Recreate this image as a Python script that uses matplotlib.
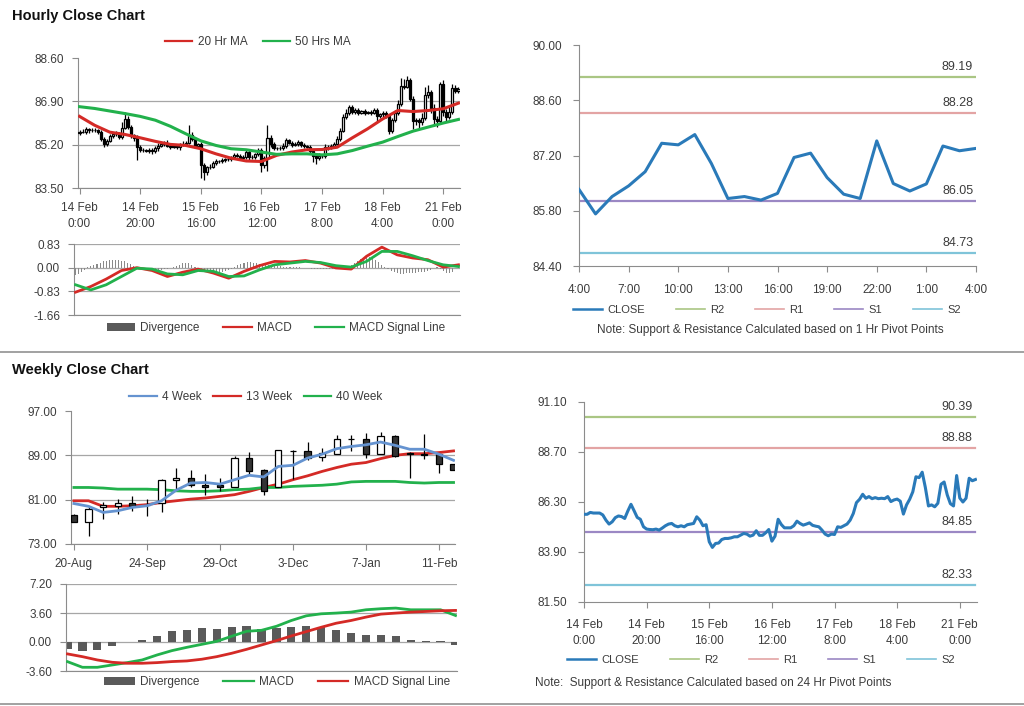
import numpy as np
import matplotlib.pyplot as plt
from matplotlib.lines import Line2D
from matplotlib.patches import Patch

plt.rcParams['font.family'] = ['Liberation Sans', 'DejaVu Sans']

# ---------------- hourly data (trading hours from 14 Feb 0:00) ----------------
close = np.array([
    85.71, 85.71, 85.80, 85.77, 85.77, 85.77, 85.68, 85.43, 85.24, 85.35,
    85.55, 85.63, 85.60, 85.51, 85.87, 86.19, 85.88, 85.56, 85.47, 85.11,
    85.00, 84.98, 84.97, 85.00, 84.95, 85.05, 85.16, 85.24, 85.27, 85.16,
    85.11, 85.16, 85.11, 85.21, 85.24, 85.27, 85.59, 85.43, 85.16, 85.21,
    84.39, 84.12, 84.31, 84.33, 84.50, 84.55, 84.55, 84.58, 84.63, 84.63,
    84.71, 84.79, 84.76, 84.66, 84.71, 84.92, 84.70, 84.70, 84.82, 84.98,
    84.42, 84.66, 85.47, 85.22, 85.06, 85.06, 85.06, 85.16, 85.38, 85.27,
    85.19, 85.24, 85.30, 85.18, 85.14, 85.11, 84.95, 84.76, 84.68, 84.76,
    84.74, 85.11, 85.08, 85.16, 85.24, 85.43, 85.75, 86.27, 86.43, 86.67,
    86.48, 86.56, 86.46, 86.51, 86.46, 86.48, 86.46, 86.56, 86.32, 86.40,
    86.44,
    86.34, 85.72, 86.16, 86.43, 86.79, 87.51, 87.47, 87.73, 87.00, 86.11,
    86.16, 86.07, 86.24, 87.15, 87.26, 86.64, 86.22, 86.11, 87.57, 86.49,
    86.30, 86.48, 87.44, 87.32, 87.38])
first_open = 85.65
wick_hi = np.array([
    0.08, 0.10, 0.08, 0.06, 0.08, 0.10, 0.06, 0.08, 0.06, 0.08,
    0.08, 0.06, 0.10, 0.08, 0.20, 0.30, 0.12, 0.08, 0.06, 0.10,
    0.06, 0.08, 0.06, 0.08, 0.06, 0.08, 0.10, 0.08, 0.06, 0.10,
    0.06, 0.08, 0.08, 0.06, 0.10, 0.08, 0.38, 0.10, 0.08, 0.06,
    0.10, 0.08, 0.06, 0.10, 0.06, 0.08, 0.06, 0.08, 0.06, 0.08,
    0.06, 0.08, 0.10, 0.06, 0.08, 0.10, 0.06, 0.08, 0.06, 0.10,
    0.08, 0.10, 0.50, 0.12, 0.08, 0.06, 0.08, 0.10, 0.08, 0.06,
    0.08, 0.06, 0.08, 0.06, 0.08, 0.06, 0.08, 0.06, 0.08, 0.10,
    0.06, 0.10, 0.08, 0.06, 0.08, 0.10, 0.12, 0.15, 0.15, 0.10,
    0.08, 0.06, 0.08, 0.06, 0.08, 0.06, 0.08, 0.06, 0.08, 0.06,
    0.08, 0.10, 0.08, 0.10, 0.12, 0.15, 0.30, 0.25, 0.15, 0.10,
    0.10, 0.08, 0.10, 0.20, 0.30, 0.30, 0.10, 0.15, 0.10, 0.10,
    0.15, 0.10, 0.20, 0.15, 0.10, 0.08])
wick_lo = np.array([
    0.08, 0.06, 0.08, 0.10, 0.08, 0.06, 0.08, 0.10, 0.12, 0.08,
    0.06, 0.08, 0.06, 0.10, 0.08, 0.06, 0.08, 0.10, 0.12, 0.50,
    0.10, 0.08, 0.06, 0.08, 0.10, 0.06, 0.08, 0.06, 0.08, 0.06,
    0.08, 0.06, 0.08, 0.10, 0.06, 0.08, 0.06, 0.10, 0.08, 0.06,
    0.50, 0.30, 0.10, 0.08, 0.06, 0.08, 0.06, 0.08, 0.06, 0.08,
    0.06, 0.08, 0.06, 0.08, 0.06, 0.08, 0.10, 0.06, 0.08, 0.06,
    0.30, 0.12, 0.50, 0.10, 0.08, 0.06, 0.08, 0.06, 0.08, 0.06,
    0.08, 0.06, 0.08, 0.06, 0.08, 0.06, 0.10, 0.25, 0.25, 0.10,
    0.08, 0.06, 0.08, 0.06, 0.08, 0.06, 0.08, 0.06, 0.08, 0.06,
    0.08, 0.06, 0.08, 0.06, 0.08, 0.06, 0.08, 0.06, 0.20, 0.08,
    0.10, 0.08, 0.10, 0.08, 0.06, 0.08, 0.06, 0.08, 0.06, 0.10,
    0.30, 0.15, 0.20, 0.10, 0.08, 0.10, 0.20, 0.30, 0.20, 0.10,
    0.15, 0.20, 0.10, 0.08, 0.10, 0.08])

ma_hours = np.arange(0, 126, 5)
ma20 = [86.31, 85.96, 85.69, 85.60, 85.47, 85.33, 85.21, 85.17, 85.04, 84.84,
        84.67, 84.56, 84.54, 84.78, 84.91, 85.00, 85.01, 85.10, 85.47, 85.82,
        86.21, 86.54, 86.50, 86.54, 86.61, 86.83]
ma50 = [86.69, 86.62, 86.52, 86.42, 86.31, 86.16, 85.92, 85.63, 85.35, 85.17,
        85.04, 85.00, 84.91, 84.82, 84.84, 84.84, 84.80, 84.84, 84.97, 85.14,
        85.30, 85.52, 85.73, 85.89, 86.05, 86.19]
macd_h = [-0.86, -0.66, -0.40, -0.10, 0.00, -0.10, -0.31, -0.16, -0.05, -0.19,
          -0.37, -0.13, 0.07, 0.22, 0.20, 0.25, 0.16, -0.01, -0.05, 0.40,
          0.72, 0.45, 0.34, 0.28, 0.02, 0.10]
signal_h = [-0.60, -0.78, -0.60, -0.31, -0.02, -0.05, -0.22, -0.25, -0.10, -0.13,
            -0.31, -0.29, -0.08, 0.10, 0.16, 0.22, 0.18, 0.07, 0.02, 0.22,
            0.57, 0.57, 0.42, 0.25, 0.10, 0.04]
div_h = np.array([
    -0.25, -0.22, -0.15, -0.08, 0.03, 0.06, 0.10, 0.14, 0.18, 0.22,
    0.25, 0.26, 0.27, 0.27, 0.26, 0.25, 0.22, 0.17, 0.12, 0.06,
    0.02, -0.01, -0.03, -0.05, -0.07, -0.09, -0.10, -0.10, -0.08, -0.06,
    -0.04, -0.01, 0.03, 0.07, 0.11, 0.15, 0.17, 0.15, 0.10, 0.04,
    -0.02, -0.06, -0.10, -0.14, -0.17, -0.19, -0.19, -0.18, -0.16, -0.13,
    -0.09, -0.04, 0.02, 0.08, 0.14, 0.18, 0.20, 0.20, 0.18, 0.15,
    0.13, 0.11, 0.10, 0.09, 0.08, 0.07, 0.06, 0.05, 0.04, 0.03,
    0.02, 0.02, 0.01, 0.01, 0.00, -0.01, -0.02, -0.03, -0.03, -0.04,
    -0.04, -0.04, -0.05, -0.05, -0.05, -0.04, -0.03, -0.02, 0.00, 0.04,
    0.10, 0.17, 0.24, 0.30, 0.35, 0.38, 0.37, 0.33, 0.27, 0.19,
    0.10, 0.02, -0.06, -0.12, -0.16, -0.19, -0.21, -0.21, -0.20, -0.19,
    -0.18, -0.17, -0.16, -0.15, -0.14, -0.12, -0.08, -0.02, 0.03, -0.05,
    -0.12, -0.18, -0.20, -0.15, -0.02, 0.06])
hour_ticks = [0, 20, 40, 60, 80, 100, 120]
hour_labels = ['14 Feb\n0:00', '14 Feb\n20:00', '15 Feb\n16:00', '16 Feb\n12:00',
               '17 Feb\n8:00', '18 Feb\n4:00', '21 Feb\n0:00']
last_day_labels = ['4:00', '7:00', '10:00', '13:00', '16:00', '19:00', '22:00', '1:00', '4:00']

pivot_names = ['R2', 'R1', 'S1', 'S2']
pivot_1h = [89.19, 88.28, 86.05, 84.73]
pivot_24h = [90.39, 88.88, 84.85, 82.33]

# ---------------- weekly data ----------------
week_labels = ['20-Aug', '24-Sep', '29-Oct', '3-Dec', '7-Jan', '11-Feb']
w_open = [78.3, 77.0, 79.6, 79.8, 80.4, 80.0, 80.4, 84.6, 85.0, 83.7, 83.6, 83.2, 88.5, 86.3,
          83.3, 89.8, 89.8, 88.7, 89.2, 92.0, 92.0, 89.2, 92.4, 89.4, 89.2, 89.2, 87.4]
w_close = [76.9, 79.4, 80.0, 80.4, 79.8, 80.1, 84.6, 85.0, 83.6, 83.3, 83.2, 88.5, 86.1, 82.6,
           89.9, 89.7, 88.6, 89.4, 92.0, 91.9, 89.2, 92.4, 88.9, 89.3, 89.1, 87.4, 86.4]
w_high = [78.4, 79.6, 80.5, 81.1, 81.7, 81.1, 84.7, 86.7, 86.4, 85.7, 85.0, 88.9, 89.6, 86.5,
          89.9, 89.9, 91.4, 90.3, 92.6, 92.6, 93.1, 93.3, 92.7, 89.6, 92.9, 89.5, 87.4]
w_low = [76.9, 74.4, 77.6, 78.4, 78.9, 78.1, 78.7, 82.8, 83.3, 81.9, 82.5, 83.2, 85.7, 81.9,
         83.3, 84.8, 88.1, 88.0, 89.2, 89.8, 88.5, 89.2, 88.7, 85.0, 88.3, 85.8, 86.4]
ma4 = [80.3, 79.8, 78.7, 79.0, 79.6, 79.9, 80.8, 82.7, 84.0, 84.1, 83.8, 84.6, 85.4, 85.1,
       87.0, 87.2, 88.5, 89.2, 90.2, 90.6, 90.9, 91.4, 90.8, 90.1, 90.1, 89.2, 88.1]
ma13 = [80.8, 80.8, 79.8, 79.8, 79.9, 80.1, 80.5, 80.8, 81.1, 81.3, 81.6, 81.9, 82.5, 83.2,
        83.8, 84.6, 85.3, 86.1, 86.8, 87.4, 87.7, 88.4, 89.0, 89.3, 89.3, 89.5, 89.8]
ma40 = [83.2, 83.2, 83.1, 82.9, 82.9, 82.9, 82.8, 82.6, 82.5, 82.5, 82.6, 82.8, 82.9, 83.2,
        83.2, 83.4, 83.5, 83.6, 83.8, 84.2, 84.3, 84.3, 84.3, 84.1, 84.0, 84.1, 84.1]
w_div = [-0.87, -1.16, -0.96, -0.46, -0.05, 0.29, 0.79, 1.33, 1.45, 1.74, 1.62, 1.87, 2.04, 1.62,
         1.74, 1.87, 2.04, 1.83, 1.45, 1.12, 0.87, 0.87, 0.71, 0.29, 0.17, 0.17, -0.33]
w_macd = [-2.44, -3.14, -3.14, -2.85, -2.56, -2.23, -1.61, -1.07, -0.66, -0.29, 0.08, 0.71, 1.33,
          1.45, 1.95, 2.67, 3.25, 3.50, 3.59, 3.71, 4.00, 4.13, 4.21, 4.00, 4.00, 4.00, 3.29]
w_signal = [-1.48, -1.82, -2.23, -2.52, -2.64, -2.64, -2.56, -2.43, -2.35, -2.14, -1.82, -1.40,
            -0.91, -0.37, 0.17, 0.75, 1.29, 1.83, 2.33, 2.67, 3.09, 3.46, 3.59, 3.71, 3.79, 3.88, 3.92]

# ---------------- styling ----------------
W, H = 1024, 706
AXIS = '#8c8c8c'
TEXT = '#3c3c3c'
GRID = '#a6a6a6'
RED = '#d42a26'
GREEN = '#22b14c'
BLUE_MA = '#6593d0'
DIV = '#5a5a5a'
CLOSE_C = '#2a7ab9'
PIV_C = ['#aac684', '#e3a4a4', '#9b88c4', '#7fc4d9']

fig = plt.figure(figsize=(W / 100, H / 100), dpi=100)


def make_ax(x0, y0, x1, y1):
    ax = fig.add_axes([x0 / W, 1 - y1 / H, (x1 - x0) / W, (y1 - y0) / H])
    ax.spines[['top', 'right']].set_visible(False)
    ax.spines[['left', 'bottom']].set_color(AXIS)
    ax.tick_params(colors=AXIS, labelcolor=TEXT, labelsize=8.5, length=4, width=0.8, pad=6)
    return ax


def set_yticks(ax, ticks, grid=True, top_grid=True):
    ax.set_ylim(min(ticks), max(ticks))
    ax.set_yticks(ticks)
    ax.set_yticklabels(['%.2f' % t for t in ticks])
    if grid:
        ax.grid(axis='y', color=GRID, lw=0.9)
        ax.set_axisbelow(True)
        if not top_grid:
            ax.yaxis.get_gridlines()[-1].set_visible(False)


def legend(handles, labels, cx, cy, hl=2.4, cs=1.5, fs=8.5):
    fig.legend(handles, labels, loc='center', bbox_to_anchor=(cx / W, 1 - cy / H),
               ncol=len(handles), frameon=False, fontsize=fs, handlelength=hl,
               columnspacing=cs, handletextpad=0.45, labelcolor=TEXT, borderaxespad=0)


def candles(ax, x, o, c, hi, lo, width, lw, down='#333333'):
    x = np.asarray(x)
    o = np.asarray(o)
    c = np.asarray(c)
    ax.vlines(x, lo, hi, color='black', lw=lw, zorder=2)
    up = c >= o
    ax.bar(x[up], c[up] - o[up], bottom=o[up], width=width, facecolor='white',
           edgecolor='black', lw=lw, zorder=3)
    ax.bar(x[~up], c[~up] - o[~up], bottom=o[~up], width=width, facecolor=down,
           edgecolor='black', lw=lw, zorder=3)


def pivot_panel(ax, x, y, levels):
    ax.plot(x, y, color=CLOSE_C, lw=2.2, zorder=3)
    for lev, col in zip(levels, PIV_C):
        ax.plot([x[0], x[-1]], [lev, lev], color=col, lw=1.6, zorder=2)
        ax.annotate('%.2f' % lev, (x[-1], lev), xytext=(-2, 3), textcoords='offset points',
                    ha='right', va='bottom', fontsize=9, color=TEXT)


# ---------------- titles & separators ----------------
fig.text(12 / W, 1 - 16 / H, 'Hourly Close Chart', fontsize=10.5, fontweight='bold', va='center', color='#111111')
fig.text(12 / W, 1 - 370 / H, 'Weekly Close Chart', fontsize=10.5, fontweight='bold', va='center', color='#111111')
for yy in (352, 704):
    fig.add_artist(Line2D([0, 1], [1 - yy / H] * 2, color='#9a9a9a', lw=1.3))

hours = np.arange(len(close))
opens = np.r_[first_open, close[:-1]]

# ---------------- hourly candles ----------------
ax1 = make_ax(78, 58, 460, 188)
candles(ax1, hours, opens, close, np.maximum(opens, close) + wick_hi,
        np.minimum(opens, close) - wick_lo, 0.7, 0.9, down='black')
ax1.plot(ma_hours, ma20, color=RED, lw=2.2, zorder=4)
ax1.plot(ma_hours, ma50, color=GREEN, lw=2.2, zorder=4)
ax1.set_xlim(-0.5, 125.5)
set_yticks(ax1, [83.50, 85.20, 86.90, 88.60], top_grid=False)
ax1.set_xticks(hour_ticks)
ax1.set_xticklabels(hour_labels, linespacing=1.5)
legend([Line2D([], [], color=RED, lw=1.6), Line2D([], [], color=GREEN, lw=1.6)],
       ['20 Hr MA', '50 Hrs MA'], 258, 42, hl=2.3, cs=1.3)

# ---------------- hourly MACD ----------------
ax2 = make_ax(74, 244, 460, 315)
ax2.bar(hours, div_h, width=0.35, color='#8a8a8a', zorder=2)
ax2.plot(ma_hours, macd_h, color=RED, lw=2, zorder=3)
ax2.plot(ma_hours, signal_h, color=GREEN, lw=2, zorder=3)
ax2.set_xlim(-0.5, 125.5)
ax2.set_xticks([])
set_yticks(ax2, [-1.66, -0.83, 0.00, 0.83])
legend([Patch(facecolor=DIV), Line2D([], [], color=RED, lw=1.6), Line2D([], [], color=GREEN, lw=1.6)],
       ['Divergence', 'MACD', 'MACD Signal Line'], 276, 328, hl=2.4, cs=2.0)

# ---------------- 1 hr pivot ----------------
ax3 = make_ax(579, 45, 976, 266)
last_day = close[-25:]
x3 = np.arange(len(last_day))
pivot_panel(ax3, x3, last_day, pivot_1h)
ax3.set_xlim(0, 24)
ax3.set_xticks(np.arange(0, 25, 3))
ax3.set_xticklabels(last_day_labels)
ax3.tick_params(axis='x', pad=9)
set_yticks(ax3, [84.40, 85.80, 87.20, 88.60, 90.00], grid=False)
ax3.tick_params(axis='y', pad=8)
piv_handles = [Line2D([], [], color=CLOSE_C, lw=1.8)] + [Line2D([], [], color=c, lw=1.2) for c in PIV_C]
legend(piv_handles, ['CLOSE'] + pivot_names, 767, 310, hl=2.6, cs=2.8, fs=8)
fig.text(770 / W, 1 - 330 / H, 'Note: Support & Resistance Calculated based on 1 Hr Pivot Points',
         ha='center', va='center', fontsize=8.5, color=TEXT)

# ---------------- weekly candles ----------------
weeks = np.arange(len(w_close))
ax4 = make_ax(71, 411, 455, 544)
candles(ax4, weeks, w_open, w_close, w_high, w_low, 0.42, 0.9)
ax4.plot(weeks, ma4, color=BLUE_MA, lw=2, zorder=4)
ax4.plot(weeks, ma13, color=RED, lw=2, zorder=1.5)
ax4.plot(weeks, ma40, color=GREEN, lw=2, zorder=1.5)
ax4.set_xlim(-0.2, 26.1)
ax4.set_xticks(np.arange(0, 26, 5))
ax4.set_xticklabels(week_labels)
set_yticks(ax4, [73.00, 81.00, 89.00, 97.00], top_grid=False)
legend([Line2D([], [], color=BLUE_MA, lw=1.6), Line2D([], [], color=RED, lw=1.6),
        Line2D([], [], color=GREEN, lw=1.6)], ['4 Week', '13 Week', '40 Week'], 256, 397, hl=2.3, cs=1.0)

# ---------------- weekly MACD ----------------
ax5 = make_ax(66, 584, 457, 671)
ax5.bar(weeks, w_div, width=0.55, color=DIV, zorder=2)
ax5.plot(weeks, w_macd, color=GREEN, lw=2, zorder=3)
ax5.plot(weeks, w_signal, color=RED, lw=2, zorder=3)
ax5.set_xlim(-0.1, 26.1)
ax5.set_xticks([])
set_yticks(ax5, [-3.60, 0.00, 3.60, 7.20])
legend([Patch(facecolor=DIV), Line2D([], [], color=GREEN, lw=1.6), Line2D([], [], color=RED, lw=1.6)],
       ['Divergence', 'MACD', 'MACD Signal Line'], 277, 682, hl=2.6, cs=2.0)

# ---------------- 24 hr pivot ----------------
ax6 = make_ax(584, 402, 977, 602)
pivot_panel(ax6, hours, close, pivot_24h)
ax6.set_xlim(0, 125.5)
ax6.set_xticks(hour_ticks)
ax6.set_xticklabels(hour_labels, linespacing=1.5)
ax6.tick_params(axis='x', pad=8)
set_yticks(ax6, [81.50, 83.90, 86.30, 88.70, 91.10], grid=False)
ax6.tick_params(axis='y', pad=8)
legend(piv_handles, ['CLOSE'] + pivot_names, 761, 660, hl=2.6, cs=2.8, fs=8)
fig.text(535 / W, 1 - 683 / H, 'Note:  Support & Resistance Calculated based on 24 Hr Pivot Points',
         ha='left', va='center', fontsize=8.5, color=TEXT)

fig.savefig('out.png', dpi=100)
